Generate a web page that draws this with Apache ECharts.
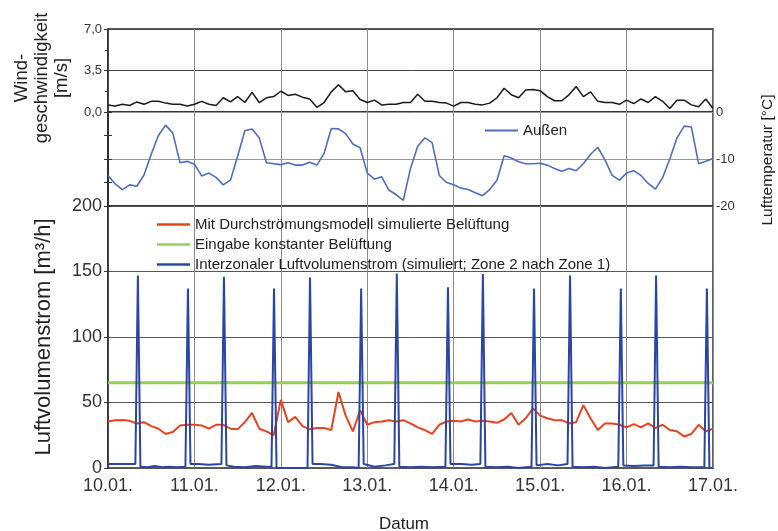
<!DOCTYPE html>
<html>
<head>
<meta charset="utf-8">
<script src="https://cdn.jsdelivr.net/npm/echarts@6/dist/echarts.min.js"></script>
<style>
  html, body { margin: 0; padding: 0; background: #fff; }
  #chart { width: 778px; height: 531px; }
</style>
</head>
<body>
<div id="chart"></div>
<script>
// x axis: hours since 10.01. 00:00
var dayLabels = ['10.01.', '11.01.', '12.01.', '13.01.', '14.01.', '15.01.', '16.01.', '17.01.'];
var stepHours = 2;

// wind speed [m/s], every 2 h
var windSpeed = [
  0.6, 0.5, 0.65, 0.55, 0.85, 0.65, 0.9, 0.9, 0.75, 0.65,
  0.65, 0.5, 0.65, 0.9, 0.65, 0.55, 1.2, 0.85, 1.3, 0.8,
  1.65, 0.8, 1.2, 1.3, 1.75, 1.4, 1.5, 1.25, 1.1, 0.4,
  0.8, 1.7, 2.3, 1.7, 1.8, 1.05, 0.8, 1.0, 0.6, 0.65,
  0.65, 0.8, 0.8, 1.5, 0.9, 0.9, 0.8, 0.75, 0.5, 0.8,
  0.8, 0.65, 0.6, 0.75, 1.2, 2.0, 1.45, 1.2, 1.85, 1.9,
  1.8, 1.3, 0.95, 0.95, 1.45, 2.15, 1.3, 1.7, 0.9, 0.8,
  0.8, 0.65, 1.0, 0.7, 1.1, 0.8, 1.3, 0.9, 0.3, 1.0,
  1.0, 0.6, 0.45, 1.1, 0.3
];

// outdoor temperature [°C], every 2 h
var outdoorTemp = [
  -13.5, -15.3, -16.5, -15.5, -15.8, -13.4, -9, -5, -2.8, -4.5,
  -10.8, -10.5, -11.1, -13.6, -13, -13.9, -15.5, -14.5, -9.4, -4,
  -3.6, -5.5, -10.8, -11, -11.2, -10.8, -11.3, -11.3, -10.7, -11.3,
  -8.8, -3.5, -3.6, -4.6, -6.8, -7.6, -13.0, -14.3, -13.8, -16.6,
  -17.6, -18.8, -12, -7.3, -5.5, -6.5, -13.5, -15, -15.5, -16.2,
  -16.5, -17.2, -17.8, -16.5, -14.5, -9.3, -9.8, -10.6, -11, -11,
  -10.9, -11.3, -12, -12.6, -12, -12.5, -11, -9, -7.5, -10.2,
  -13.5, -14.5, -13, -12.5, -13.5, -15.2, -16.4, -14, -10, -5.5,
  -3, -3.2, -11, -10.5, -9.9
];

// simulated ventilation with airflow model [m³/h], every 2 h
var flowModel = [
  35.5, 36.5, 36.6, 36, 34, 35, 32, 30, 26, 27.5,
  32.5, 33, 33, 32.5, 30, 33, 33, 30, 29.5, 35,
  42, 30, 28, 25, 52, 35, 39, 32, 29.5, 30.5,
  30.5, 29, 58, 40, 28, 44, 33, 35, 35.5, 36.5,
  35.5, 36.5, 34, 31, 29, 26, 33, 35.5, 36, 35.5,
  37, 35.5, 36, 35.5, 34.5, 37, 42, 33, 38, 45.5,
  40, 38, 36.5, 36.5, 34, 35, 48, 38, 29, 34,
  34, 33, 31, 33.5, 31, 34, 30.5, 33, 29, 28,
  24, 26, 33, 28, 30
];

// constant ventilation input
var constHours = [0, 168];
var constFlow = [65, 65];

// interzonal airflow (zone 2 -> zone 1)
var interHours = [
  0, 3, 6, 7.6, 8.3, 9.0, 11, 13, 15, 17,
  19, 21.5, 22.2, 22.9, 25, 28, 31.5, 32.2, 32.9, 35,
  38, 41, 44, 45.4, 46.1, 46.8, 50, 53, 55.4, 56.1,
  56.8, 59, 62, 65, 68, 69.6, 70.3, 71.0, 74, 77,
  79.5, 80.2, 80.9, 84, 87, 90, 93.7, 94.4, 95.1, 98,
  101, 103.4, 104.1, 104.8, 108, 111, 114, 117.6, 118.3, 119.0,
  122, 125, 127.6, 128.3, 129.0, 132, 135, 138, 141.7, 142.4,
  143.1, 146, 149, 151.5, 152.2, 152.9, 156, 159, 162, 165.6,
  166.3, 167, 168
];
var interFlow = [
  3, 3, 3, 3, 147, 1, 0.5, 1.5, 0.5, 1,
  0.5, 1, 137, 3, 3, 2.5, 3, 146, 2, 1,
  0.5, 1.5, 1, 1, 137, 0, 0, 0, 0, 145.5,
  3, 3, 2.5, 0.5, 0.5, 0, 137, 3, 1, 2,
  3, 148.5, 1, 0.5, 1, 0.5, 1, 138, 3, 3,
  2.5, 3, 148, 1, 0.5, 1, 0, 1, 137, 2,
  3, 2, 3, 147, 1, 0.5, 1, 0, 1, 137,
  2, 1.5, 2, 2, 147, 1, 0.5, 1, 0.5, 0.5,
  137, 0, 0
];

var FONT = 'Liberation Sans, Arial, sans-serif';

function stepped(ys) {
  return ys.map(function (v, i) { return [i * stepHours, v]; });
}
function pairs(xs, ys) {
  return xs.map(function (x, i) { return [x, ys[i]]; });
}

var myChart = echarts.init(document.getElementById('chart'));

var gridBase = {
  left: 108, right: 65, show: true,
  borderColor: '#2b2b2b', borderWidth: 1.5, backgroundColor: 'transparent'
};

function xAx(k) {
  return {
    type: 'value', gridIndex: k, min: 0, max: 168, interval: 24,
    axisLine: { show: false }, axisTick: { show: false },
    axisLabel: {
      show: k === 2, fontSize: 18, color: '#333', fontFamily: FONT, margin: 9,
      formatter: function (v) { return dayLabels[v / 24]; }
    },
    splitLine: { show: true, lineStyle: { color: '#8c8c8c', width: 1 } }
  };
}

var legendText = { fontSize: 15, lineHeight: 14, color: '#222', fontFamily: FONT };

var option = {
  animation: false,
  backgroundColor: '#fff',
  textStyle: { fontFamily: FONT },
  grid: [
    Object.assign({ top: 29, height: 83 }, gridBase),
    Object.assign({ top: 112, height: 94 }, gridBase),
    Object.assign({ top: 206, height: 262 }, gridBase)
  ],
  xAxis: [xAx(0), xAx(1), xAx(2)],
  yAxis: [
    {
      type: 'value', gridIndex: 0, min: 0, max: 7, interval: 3.5, position: 'left',
      axisLine: { show: true, lineStyle: { color: '#2b2b2b', width: 1.5 } },
      axisTick: { show: true, length: 4, lineStyle: { color: '#333' } },
      minorTick: { show: true, splitNumber: 2, length: 3, lineStyle: { color: '#333' } },
      axisLabel: {
        fontSize: 13, color: '#333', margin: 6,
        formatter: function (v) { return v.toFixed(1).replace('.', ','); }
      },
      splitLine: { lineStyle: { color: '#444', width: 1 } }
    },
    {
      type: 'value', gridIndex: 1, min: -20, max: 0, interval: 10, position: 'right',
      axisLine: { show: true, lineStyle: { color: '#2b2b2b', width: 1.5 } },
      axisTick: { show: true, length: 4, lineStyle: { color: '#333' } },
      minorTick: { show: true, splitNumber: 2, length: 4, lineStyle: { color: '#333' } },
      axisLabel: { fontSize: 13, color: '#333', margin: 3 },
      splitLine: { lineStyle: { color: '#999', width: 1 } }
    },
    {
      type: 'value', gridIndex: 1, min: -20, max: 0, interval: 5, position: 'left',
      axisLine: { show: true, lineStyle: { color: '#2b2b2b', width: 1.5 } },
      axisTick: { show: true, length: 4, lineStyle: { color: '#333' } },
      axisLabel: { show: false },
      splitLine: { show: false }
    },
    {
      type: 'value', gridIndex: 2, min: 0, max: 200, interval: 50, position: 'left',
      axisLine: { show: true, lineStyle: { color: '#2b2b2b', width: 1.5 } },
      axisTick: { show: true, length: 4, lineStyle: { color: '#333' } },
      axisLabel: { fontSize: 18, color: '#333', margin: 6 },
      splitLine: { lineStyle: { color: '#555', width: 1 } }
    }
  ],
  legend: [
    {
      data: ['Außen'], left: 480, top: 118, itemWidth: 33, itemHeight: 2,
      icon: 'rect', selectedMode: false,
      textStyle: legendText
    },
    {
      data: [
        'Mit Durchströmungsmodell simulierte Belüftung',
        'Eingabe konstanter Belüftung',
        'Interzonaler Luftvolumenstrom (simuliert; Zone 2 nach Zone 1)'
      ],
      orient: 'vertical', left: 152, top: 212, itemWidth: 33, itemHeight: 2.5, itemGap: 5,
      icon: 'rect', selectedMode: false,
      textStyle: legendText
    }
  ],
  series: [
    {
      name: 'Wind', type: 'line', xAxisIndex: 0, yAxisIndex: 0,
      data: stepped(windSpeed), symbol: 'none',
      lineStyle: { color: '#1a1a1a', width: 1.5 }
    },
    {
      name: 'Außen', type: 'line', xAxisIndex: 1, yAxisIndex: 1,
      data: stepped(outdoorTemp), symbol: 'none',
      itemStyle: { color: '#506cc2' },
      lineStyle: { color: '#506cc2', width: 1.6 }
    },
    {
      name: 'Mit Durchströmungsmodell simulierte Belüftung', type: 'line',
      xAxisIndex: 2, yAxisIndex: 3,
      data: stepped(flowModel), symbol: 'none',
      itemStyle: { color: '#e8431e' },
      lineStyle: { color: '#e8431e', width: 2 }
    },
    {
      name: 'Eingabe konstanter Belüftung', type: 'line',
      xAxisIndex: 2, yAxisIndex: 3,
      data: pairs(constHours, constFlow), symbol: 'none',
      itemStyle: { color: '#93d055' },
      lineStyle: { color: '#93d055', width: 3 }
    },
    {
      name: 'Interzonaler Luftvolumenstrom (simuliert; Zone 2 nach Zone 1)', type: 'line',
      xAxisIndex: 2, yAxisIndex: 3,
      data: pairs(interHours, interFlow), symbol: 'none',
      itemStyle: { color: '#2b46a2' },
      lineStyle: { color: '#2b46a2', width: 2 }
    }
  ],
  graphic: [
    {
      type: 'text', x: 42, y: 78, rotation: Math.PI / 2,
      style: {
        text: 'Wind-\ngeschwindigkeit\n[m/s]', fontSize: 18.5, fontFamily: FONT,
        lineHeight: 20, align: 'center', verticalAlign: 'middle', fill: '#222'
      }
    },
    {
      type: 'text', x: 44, y: 337, rotation: Math.PI / 2,
      style: {
        text: 'Luftvolumenstrom [m³/h]', fontSize: 22, fontFamily: FONT,
        align: 'center', verticalAlign: 'middle', fill: '#222'
      }
    },
    {
      type: 'text', x: 768, y: 160, rotation: Math.PI / 2,
      style: {
        text: 'Lufttemperatur [°C]', fontSize: 15.5, fontFamily: FONT,
        align: 'center', verticalAlign: 'middle', fill: '#222'
      }
    },
    {
      type: 'text', x: 404, y: 524,
      style: {
        text: 'Datum', fontSize: 17, fontFamily: FONT,
        align: 'center', verticalAlign: 'middle', fill: '#222'
      }
    }
  ]
};

myChart.setOption(option);
</script>
</body>
</html>
